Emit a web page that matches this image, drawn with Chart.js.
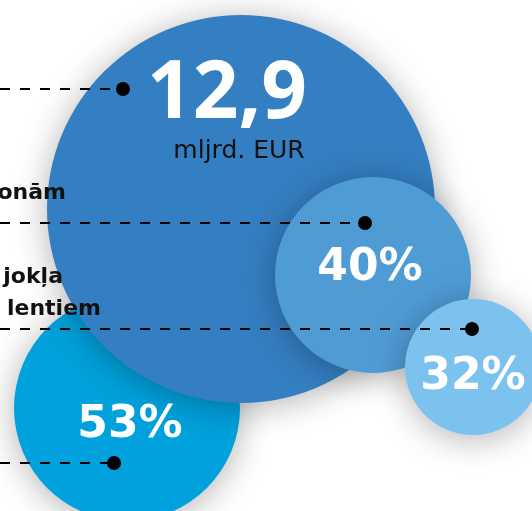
<!DOCTYPE html>
<html>
<head>
<meta charset="utf-8">
<script src="https://cdn.jsdelivr.net/npm/chart.js@4"></script>
<style>
  html, body { margin: 0; padding: 0; background: #fff; }
  #wrap { width: 532px; height: 511px; }
</style>
</head>
<body>
<div id="wrap"><canvas id="chartBurbulis" width="532" height="511"></canvas></div>
<script>
// ── Dati ──────────────────────────────────────────────────────────────────
var bubbleLabels = ['53%', '12,9', '40%', '32%'];
var bubbleX      = [127, 241, 373, 473];
var bubbleY      = [408, 209, 275, 367];
var bubbleR      = [113, 194, 98, 68];
var bubbleColors = ['#00a1dc', '#347fc2', '#4f9cd5', '#7bc3ee'];

var valueTextX   = [130, 227, 370, 473];
var valueTextY   = [437, 118, 280, 389];

var unitText     = 'mljrd. EUR';
var unitX        = 239;
var unitY        = 158;

var leaderY      = [89, 223, 329, 463];
var leaderEndX   = [123, 365, 472, 114];

var sideLabels   = ['onām', 'jokļa', 'lentiem'];
var sideLabelX   = [66, 63, 101];
var sideLabelY   = [199, 283, 315];

// ── Datu kopas ────────────────────────────────────────────────────────────
var datasets = [];

leaderY.forEach(function (y, i) {
    datasets.push({
        type: 'line',
        data: [{ x: 0, y: y }, { x: leaderEndX[i], y: y }],
        borderColor: '#000',
        borderWidth: 2,
        borderDash: [10, 10],
        pointRadius: 0,
        fill: false,
        clip: false,
        order: 1
    });
});

datasets.push({
    type: 'scatter',
    data: leaderEndX.map(function (x, i) { return { x: x, y: leaderY[i] }; }),
    backgroundColor: '#000',
    borderWidth: 0,
    pointRadius: 7,
    clip: false,
    order: 0
});

datasets.push({
    type: 'bubble',
    data: bubbleX.map(function (x, i) { return { x: x, y: bubbleY[i], r: bubbleR[i] }; }),
    backgroundColor: bubbleColors,
    borderWidth: 0,
    hoverRadius: 0,
    clip: false,
    order: 2
});

// ── Ēnas un teksti ────────────────────────────────────────────────────────
var shadowPlugin = {
    id: 'shadow',
    beforeDatasetDraw: function (chart, args) {
        if (args.meta.type !== 'bubble') return;
        var c = chart.ctx;
        c.save();
        c.shadowColor = 'rgba(0,0,0,0.3)';
        c.shadowBlur = 34;
        c.shadowOffsetX = 0;
        c.shadowOffsetY = 4;
    },
    afterDatasetDraw: function (chart, args) {
        if (args.meta.type !== 'bubble') return;
        chart.ctx.restore();
    }
};

var textPlugin = {
    id: 'texts',
    afterDatasetsDraw: function (chart) {
        var c = chart.ctx, sx = chart.scales.x, sy = chart.scales.y;
        c.save();
        c.textBaseline = 'alphabetic';

        c.fillStyle = '#fff';
        c.textAlign = 'center';
        bubbleLabels.forEach(function (t, i) {
            c.font = i === 1 ? 'bold 80px "Open Sans", sans-serif'
                             : 'bold 44px "DejaVu Sans", sans-serif';
            c.fillText(t, sx.getPixelForValue(valueTextX[i]), sy.getPixelForValue(valueTextY[i]));
        });

        c.fillStyle = '#111';
        c.font = '25px "DejaVu Sans", sans-serif';
        c.fillText(unitText, sx.getPixelForValue(unitX), sy.getPixelForValue(unitY));

        c.textAlign = 'right';
        c.font = 'bold 22px "DejaVu Sans", sans-serif';
        sideLabels.forEach(function (t, i) {
            c.fillText(t, sx.getPixelForValue(sideLabelX[i]), sy.getPixelForValue(sideLabelY[i]));
        });
        c.restore();
    }
};

new Chart(document.getElementById('chartBurbulis').getContext('2d'), {
    type: 'bubble',
    data: { datasets: datasets },
    options: {
        responsive: false,
        animation: false,
        events: [],
        layout: { padding: 0, autoPadding: false },
        plugins: { legend: { display: false }, tooltip: { enabled: false } },
        scales: {
            x: { type: 'linear', min: 0, max: 532, display: false },
            y: { type: 'linear', min: 0, max: 511, reverse: true, display: false }
        }
    },
    plugins: [shadowPlugin, textPlugin]
});
</script>
</body>
</html>
